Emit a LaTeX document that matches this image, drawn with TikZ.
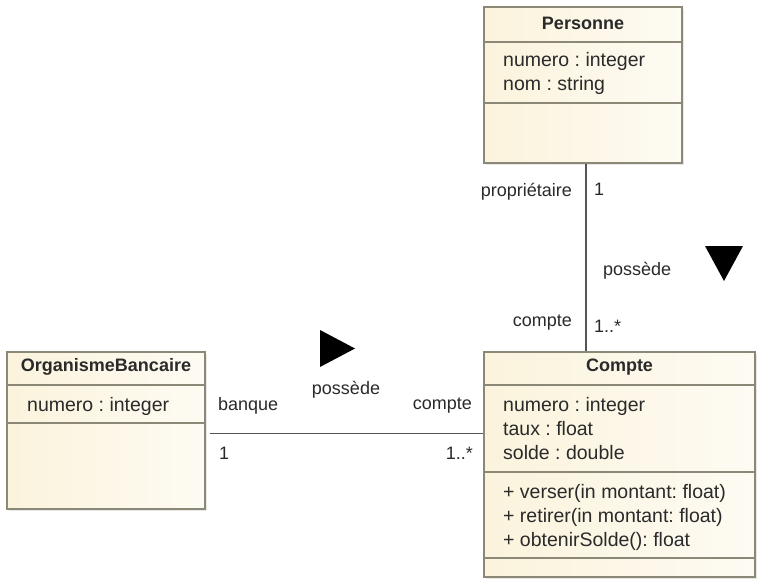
\documentclass[tikz,border=0pt]{standalone}
\usepackage{fontspec}
\setmainfont{Liberation Sans}
\usepackage{tikz}
\usetikzlibrary{positioning, shadows}
\frenchspacing
\definecolor{umlfill}{HTML}{FBF3DC}
\definecolor{umlline}{HTML}{8C8878}
\definecolor{umltext}{HTML}{2A2A2A}
\tikzset{
  classbox/.style={draw=umlline, line width=1.1pt, left color=umlfill, right color=umlfill!35!white,
    rectangle, inner sep=0pt, drop shadow={opacity=0.18, shadow xshift=2pt, shadow yshift=-2pt}},
  classname/.style={font=\fontsize{18}{22}\selectfont\bfseries, text=umltext, inner sep=0pt},
  members/.style={font=\fontsize{19.5}{24}\selectfont, text=umltext, align=left, anchor=north west, inner sep=0pt},
  role/.style={font=\fontsize{18}{22}\selectfont, text=umltext, inner sep=0pt},
  sep/.style={draw=umlline, line width=1.1pt},
  assoc/.style={draw=umltext!80!white, line width=1.3pt}
}
\begin{document}
\begin{tikzpicture}[x=1pt, y=-1pt]
    \useasboundingbox[fill=white] (0,0) rectangle (768,586);
    % classes
    \node[classbox, minimum width=198pt, minimum height=156pt] (pers) at (583,85) {};
    \node[classbox, minimum width=271pt, minimum height=225pt] (cpt) at (619.5,464.5) {};
    \node[classbox, minimum width=198pt, minimum height=157pt] (orga) at (106,430.5) {};
    \node[classname] (persT) at (583,23) {Personne};
    \node[classname] (cptT) at (619.5,367) {Compte};
    \node[classname] (orgaT) at (106,367) {OrganismeBancaire};
    \draw[sep] (484,42) -- (682,42);
    \draw[sep] (484,103) -- (682,103);
    \draw[sep] (484,385) -- (755,385);
    \draw[sep] (484,472) -- (755,472);
    \draw[sep] (484,558) -- (755,558);
    \draw[sep] (7,385) -- (205,385);
    \draw[sep] (7,423) -- (205,423);
    \node[members] (persA) at (503,52) {numero : integer\\nom : string};
    \node[members] (cptA) at (503,397) {numero : integer\\taux : float\\solde : double};
    \node[members] (cptM) at (503,484) {+ verser(in montant: float)\\+ retirer(in montant: float)\\+ obtenirSolde(): float};
    \node[members] (orgaA) at (27,397) {numero : integer};
    % associations
    \coordinate (p1) at ([xshift=3pt]pers.south);
    \coordinate (p2) at (p1 |- cpt.north);
    \coordinate (o1) at ([xshift=4pt, yshift=-3pt]orga.east);
    \coordinate (o2) at (o1 -| cpt.west);
    \draw[assoc] (p1) -- (p2);
    \draw[assoc] (o1) -- (o2);
    \node[role, anchor=east] (roleP) at (572,192) {propriétaire};
    \node[role, anchor=west] (multP) at (594,189) {1};
    \node[role, anchor=west] (nameV) at (603,271) {possède};
    \node[role, anchor=east] (roleCv) at (572,323) {compte};
    \node[role, anchor=west] (multCv) at (594,326) {1..*};
    \node[role, anchor=west] (roleB) at (218,406) {banque};
    \node[role] (nameH) at (346,390) {possède};
    \node[role, anchor=east] (roleCh) at (472,406) {compte};
    \node[role, anchor=west] (multB) at (219,453) {1};
    \node[role, anchor=east] (multCh) at (473,453) {1..*};
    % reading direction
    \fill[black] (320,330) -- (355,348.5) -- (320,367) -- cycle;
    \fill[black] (705,246) -- (743,246) -- (724,281) -- cycle;
\end{tikzpicture}
\end{document}
